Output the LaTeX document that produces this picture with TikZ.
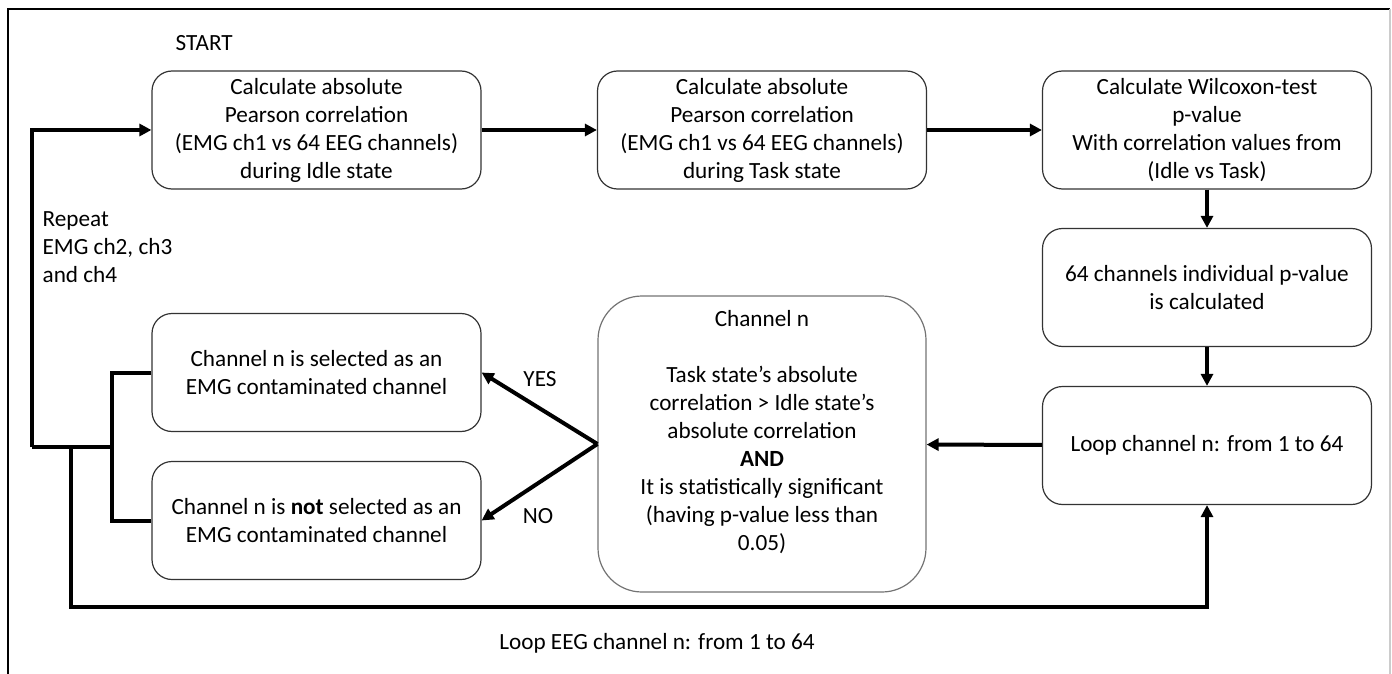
\documentclass[tikz,border=0pt]{standalone}
\usepackage{fontspec}
\setmainfont{Carlito}
\usetikzlibrary{arrows.meta}

\begin{document}
\begin{tikzpicture}[x=0.5pt, y=-0.5pt, line width=1pt,
  every node/.style={font=\fontsize{11.6}{14}\selectfont},
  box/.style={draw=black!80, line width=0.6pt, rounded corners=10pt, align=center,
    minimum width=164.5pt, minimum height=59pt, inner sep=0pt},
  bigbox/.style={box, draw=black!55, rounded corners=22pt, minimum width=164pt, minimum height=148pt},
  flow/.style={line width=2pt, -{Triangle[length=6pt, width=6pt]}},
  wire/.style={line width=2pt}]

\useasboundingbox (0,0) rectangle (1392,674);
\draw[line width=0.8pt] (8,674) -- (8,9) -- (1390,9);
\draw[black!20, line width=0.6pt] (1390,9) -- (1390,674);

\node (start) [anchor=west] at (168,43) {START};

\node[box] (idle) at (316.5,130) {Calculate absolute\\Pearson correlation\\(EMG ch1 vs 64 EEG channels)\\during Idle state};
\node[box] (task) at (762,130) {Calculate absolute\\Pearson correlation\\(EMG ch1 vs 64 EEG channels)\\during Task state};
\node[box] (wilcox) at (1207,130) {Calculate Wilcoxon-test\\p-value\\With correlation values from\\(Idle vs Task)};
\node[box] (pval) at (1207,287.5) {64 channels individual p-value\\is calculated};
\node[box] (loopch) at (1207,445.5) {Loop channel n: from 1 to 64};

\node[bigbox] (cond) at (762,444) {Channel n\\ \\Task state’s absolute\\correlation > Idle state’s\\absolute correlation\\\textbf{AND}\\It is statistically significant\\(having p-value less than\\0.05)\\ };

\node[box] (yes) at (316.5,372.5) {Channel n is selected as an\\EMG contaminated channel};
\node[box] (no) at (316.5,520.5) {Channel n is \textbf{not} selected as an\\EMG contaminated channel};

\draw[flow] (idle) -- (task);
\draw[flow] (task) -- (wilcox);
\draw[flow] (wilcox) -- (pval);
\draw[flow] (pval) -- (loopch);
\draw[flow] (loopch) -- (cond);
\draw[flow] (cond.west) -- (yes.east);
\draw[flow] (cond.west) -- (no.east);
\node (yeslabel) at (540,379) {YES};
\node (nolabel) at (538,516) {NO};

\coordinate (join) at (112,447);
\coordinate (rep) at (32,447);
\coordinate (drop) at (71,447);
\coordinate (eeg) at (71,607);

\draw[wire] (yes.west) -| (join) |- (no.west);
\draw[wire] (join) -- (rep);
\draw[flow] (rep) |- (idle.west);
\draw[flow] (drop) -- (eeg) -| (loopch.south);

\node (repeat) [anchor=north west, align=left] at (35,204) {Repeat\\EMG ch2, ch3\\and ch4};
\node (eeglabel) at (657,643) {Loop EEG channel n: from 1 to 64};

\end{tikzpicture}
\end{document}
